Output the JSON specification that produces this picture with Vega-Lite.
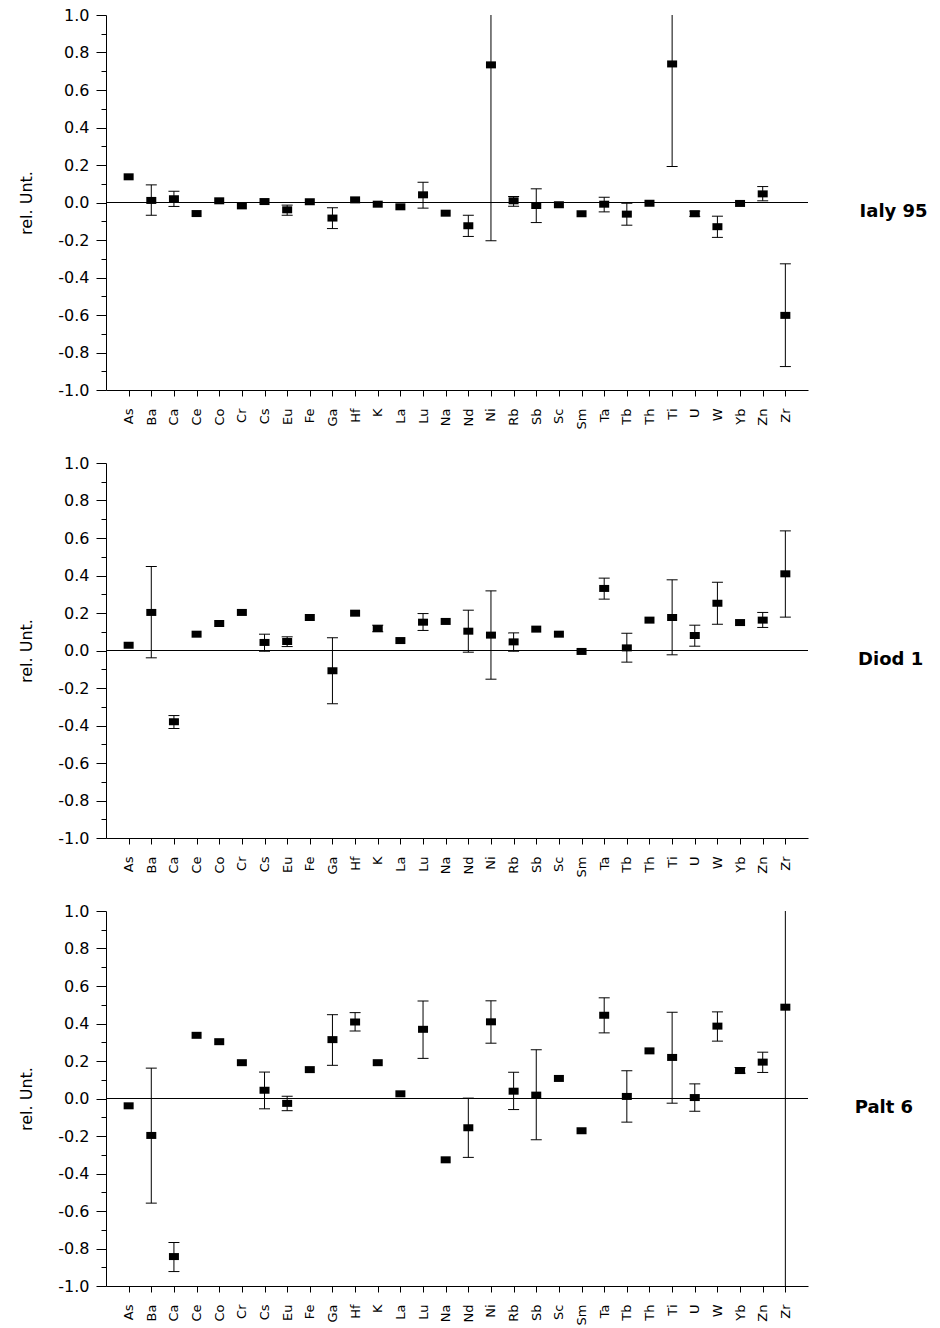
{
  "$schema": "https://vega.github.io/schema/vega-lite/v6.json",
  "padding": {"left": 18, "top": 7, "right": 5, "bottom": 5},
  "background": "white",
  "datasets": {
    "d": [
      {"s": "Ialy 95", "el": "As", "v": 0.137},
      {"s": "Ialy 95", "el": "Ba", "v": 0.011, "lo": -0.068, "hi": 0.094},
      {"s": "Ialy 95", "el": "Ca", "v": 0.020, "lo": -0.021, "hi": 0.060},
      {"s": "Ialy 95", "el": "Ce", "v": -0.059},
      {"s": "Ialy 95", "el": "Co", "v": 0.009},
      {"s": "Ialy 95", "el": "Cr", "v": -0.018},
      {"s": "Ialy 95", "el": "Cs", "v": 0.005},
      {"s": "Ialy 95", "el": "Eu", "v": -0.039, "lo": -0.068, "hi": -0.014},
      {"s": "Ialy 95", "el": "Fe", "v": 0.004},
      {"s": "Ialy 95", "el": "Ga", "v": -0.083, "lo": -0.139, "hi": -0.028},
      {"s": "Ialy 95", "el": "Hf", "v": 0.014},
      {"s": "Ialy 95", "el": "K", "v": -0.009},
      {"s": "Ialy 95", "el": "La", "v": -0.023},
      {"s": "Ialy 95", "el": "Lu", "v": 0.041, "lo": -0.030, "hi": 0.108},
      {"s": "Ialy 95", "el": "Na", "v": -0.057},
      {"s": "Ialy 95", "el": "Nd", "v": -0.124, "lo": -0.181, "hi": -0.068},
      {"s": "Ialy 95", "el": "Ni", "v": 0.734, "lo": -0.204, "hi": 1.672},
      {"s": "Ialy 95", "el": "Rb", "v": 0.009, "lo": -0.020, "hi": 0.032},
      {"s": "Ialy 95", "el": "Sb", "v": -0.016, "lo": -0.107, "hi": 0.073},
      {"s": "Ialy 95", "el": "Sc", "v": -0.012},
      {"s": "Ialy 95", "el": "Sm", "v": -0.060},
      {"s": "Ialy 95", "el": "Ta", "v": -0.009, "lo": -0.050, "hi": 0.028},
      {"s": "Ialy 95", "el": "Tb", "v": -0.062, "lo": -0.121, "hi": -0.004},
      {"s": "Ialy 95", "el": "Th", "v": -0.004},
      {"s": "Ialy 95", "el": "Ti", "v": 0.739, "lo": 0.192, "hi": 1.286},
      {"s": "Ialy 95", "el": "U", "v": -0.060, "lo": -0.074, "hi": -0.046},
      {"s": "Ialy 95", "el": "W", "v": -0.129, "lo": -0.186, "hi": -0.073},
      {"s": "Ialy 95", "el": "Yb", "v": -0.005},
      {"s": "Ialy 95", "el": "Zn", "v": 0.046, "lo": 0.009, "hi": 0.085},
      {"s": "Ialy 95", "el": "Zr", "v": -0.602, "lo": -0.875, "hi": -0.327},

      {"s": "Diod 1", "el": "As", "v": 0.028},
      {"s": "Diod 1", "el": "Ba", "v": 0.203, "lo": -0.039, "hi": 0.448},
      {"s": "Diod 1", "el": "Ca", "v": -0.380, "lo": -0.416, "hi": -0.347},
      {"s": "Diod 1", "el": "Ce", "v": 0.087},
      {"s": "Diod 1", "el": "Co", "v": 0.144},
      {"s": "Diod 1", "el": "Cr", "v": 0.203},
      {"s": "Diod 1", "el": "Cs", "v": 0.043, "lo": -0.004, "hi": 0.087},
      {"s": "Diod 1", "el": "Eu", "v": 0.048, "lo": 0.021, "hi": 0.073},
      {"s": "Diod 1", "el": "Fe", "v": 0.176},
      {"s": "Diod 1", "el": "Ga", "v": -0.108, "lo": -0.284, "hi": 0.068},
      {"s": "Diod 1", "el": "Hf", "v": 0.199},
      {"s": "Diod 1", "el": "K", "v": 0.117, "lo": 0.100, "hi": 0.135},
      {"s": "Diod 1", "el": "La", "v": 0.053},
      {"s": "Diod 1", "el": "Lu", "v": 0.151, "lo": 0.107, "hi": 0.197},
      {"s": "Diod 1", "el": "Na", "v": 0.155},
      {"s": "Diod 1", "el": "Nd", "v": 0.103, "lo": -0.009, "hi": 0.215},
      {"s": "Diod 1", "el": "Ni", "v": 0.082, "lo": -0.153, "hi": 0.318},
      {"s": "Diod 1", "el": "Rb", "v": 0.046, "lo": -0.004, "hi": 0.094},
      {"s": "Diod 1", "el": "Sb", "v": 0.114},
      {"s": "Diod 1", "el": "Sc", "v": 0.087},
      {"s": "Diod 1", "el": "Sm", "v": -0.005},
      {"s": "Diod 1", "el": "Ta", "v": 0.331, "lo": 0.274, "hi": 0.386},
      {"s": "Diod 1", "el": "Tb", "v": 0.014, "lo": -0.062, "hi": 0.092},
      {"s": "Diod 1", "el": "Th", "v": 0.162},
      {"s": "Diod 1", "el": "Ti", "v": 0.176, "lo": -0.023, "hi": 0.377},
      {"s": "Diod 1", "el": "U", "v": 0.080, "lo": 0.023, "hi": 0.135},
      {"s": "Diod 1", "el": "W", "v": 0.252, "lo": 0.140, "hi": 0.364},
      {"s": "Diod 1", "el": "Yb", "v": 0.149},
      {"s": "Diod 1", "el": "Zn", "v": 0.162, "lo": 0.123, "hi": 0.203},
      {"s": "Diod 1", "el": "Zr", "v": 0.409, "lo": 0.178, "hi": 0.638},

      {"s": "Palt 6", "el": "As", "v": -0.039},
      {"s": "Palt 6", "el": "Ba", "v": -0.197, "lo": -0.558, "hi": 0.162},
      {"s": "Palt 6", "el": "Ca", "v": -0.843, "lo": -0.923, "hi": -0.768},
      {"s": "Palt 6", "el": "Ce", "v": 0.337},
      {"s": "Palt 6", "el": "Co", "v": 0.303},
      {"s": "Palt 6", "el": "Cr", "v": 0.191},
      {"s": "Palt 6", "el": "Cs", "v": 0.044, "lo": -0.055, "hi": 0.141},
      {"s": "Palt 6", "el": "Eu", "v": -0.026, "lo": -0.065, "hi": 0.012},
      {"s": "Palt 6", "el": "Fe", "v": 0.154},
      {"s": "Palt 6", "el": "Ga", "v": 0.314, "lo": 0.177, "hi": 0.447},
      {"s": "Palt 6", "el": "Hf", "v": 0.408, "lo": 0.360, "hi": 0.458},
      {"s": "Palt 6", "el": "K", "v": 0.191},
      {"s": "Palt 6", "el": "La", "v": 0.025},
      {"s": "Palt 6", "el": "Lu", "v": 0.369, "lo": 0.214, "hi": 0.520},
      {"s": "Palt 6", "el": "Na", "v": -0.327},
      {"s": "Palt 6", "el": "Nd", "v": -0.156, "lo": -0.314, "hi": 0.002},
      {"s": "Palt 6", "el": "Ni", "v": 0.409, "lo": 0.295, "hi": 0.521},
      {"s": "Palt 6", "el": "Rb", "v": 0.039, "lo": -0.059, "hi": 0.140},
      {"s": "Palt 6", "el": "Sb", "v": 0.018, "lo": -0.220, "hi": 0.260},
      {"s": "Palt 6", "el": "Sc", "v": 0.107},
      {"s": "Palt 6", "el": "Sm", "v": -0.172},
      {"s": "Palt 6", "el": "Ta", "v": 0.444, "lo": 0.350, "hi": 0.537},
      {"s": "Palt 6", "el": "Tb", "v": 0.011, "lo": -0.126, "hi": 0.148},
      {"s": "Palt 6", "el": "Th", "v": 0.254},
      {"s": "Palt 6", "el": "Ti", "v": 0.219, "lo": -0.025, "hi": 0.460},
      {"s": "Palt 6", "el": "U", "v": 0.005, "lo": -0.068, "hi": 0.078},
      {"s": "Palt 6", "el": "W", "v": 0.386, "lo": 0.306, "hi": 0.462},
      {"s": "Palt 6", "el": "Yb", "v": 0.149, "lo": 0.135, "hi": 0.165},
      {"s": "Palt 6", "el": "Zn", "v": 0.194, "lo": 0.139, "hi": 0.247},
      {"s": "Palt 6", "el": "Zr", "v": 0.487, "lo": -1.1, "hi": 2.07}
    ]
  },
  "data": {"name": "d"},
  "spacing": 26,
  "vconcat": [
    {
      "width": 702, "height": 375,
      "title": "Ialy 95",
      "transform": [{"filter": "datum.s == 'Ialy 95'"}],
      "resolve": {"axis": {"y": "independent"}},
      "layer": [
        {"mark": {"type": "rule", "color": "black", "strokeWidth": 1},
         "encoding": {"y": {"datum": 0, "type": "quantitative", "scale": {"domain": [-1, 1], "nice": false, "zero": false},
           "axis": {"orient": "left", "values": [-0.9, -0.7, -0.5, -0.3, -0.1, 0.1, 0.3, 0.5, 0.7, 0.9], "labels": false, "domain": false, "tickSize": 5, "title": null}}}},
        {"transform": [{"filter": "datum.lo != null"}],
         "mark": {"type": "rule", "color": "black", "strokeWidth": 1, "clip": true},
         "encoding": {"x": {"field": "el", "type": "nominal", "scale": {"type": "point", "padding": 1, "domain": ["As","Ba","Ca","Ce","Co","Cr","Cs","Eu","Fe","Ga","Hf","K","La","Lu","Na","Nd","Ni","Rb","Sb","Sc","Sm","Ta","Tb","Th","Ti","U","W","Yb","Zn","Zr"]},
             "axis": {"title": null, "labelAngle": -90, "labelAlign": "right", "labelBaseline": "middle", "tickSize": 6, "labelPadding": 12, "labelFontSize": 13}},
           "y": {"field": "lo", "type": "quantitative", "scale": {"domain": [-1, 1], "nice": false, "zero": false}, "axis": null},
           "y2": {"field": "hi"}}},
        {"transform": [{"filter": "datum.lo != null"}],
         "mark": {"type": "tick", "color": "black", "thickness": 1, "size": 11, "orient": "horizontal", "clip": true, "opacity": 1},
         "encoding": {"x": {"field": "el", "type": "nominal", "scale": {"type": "point", "padding": 1, "domain": ["As","Ba","Ca","Ce","Co","Cr","Cs","Eu","Fe","Ga","Hf","K","La","Lu","Na","Nd","Ni","Rb","Sb","Sc","Sm","Ta","Tb","Th","Ti","U","W","Yb","Zn","Zr"]},
             "axis": {"title": null, "labelAngle": -90, "labelAlign": "right", "labelBaseline": "middle", "tickSize": 6, "labelPadding": 12, "labelFontSize": 13}},
           "y": {"field": "lo", "type": "quantitative", "scale": {"domain": [-1, 1], "nice": false, "zero": false}, "axis": null}}},
        {"transform": [{"filter": "datum.lo != null"}],
         "mark": {"type": "tick", "color": "black", "thickness": 1, "size": 11, "orient": "horizontal", "clip": true, "opacity": 1},
         "encoding": {"x": {"field": "el", "type": "nominal", "scale": {"type": "point", "padding": 1, "domain": ["As","Ba","Ca","Ce","Co","Cr","Cs","Eu","Fe","Ga","Hf","K","La","Lu","Na","Nd","Ni","Rb","Sb","Sc","Sm","Ta","Tb","Th","Ti","U","W","Yb","Zn","Zr"]},
             "axis": {"title": null, "labelAngle": -90, "labelAlign": "right", "labelBaseline": "middle", "tickSize": 6, "labelPadding": 12, "labelFontSize": 13}},
           "y": {"field": "hi", "type": "quantitative", "scale": {"domain": [-1, 1], "nice": false, "zero": false}, "axis": null}}},
        {"mark": {"type": "point", "filled": true, "color": "black", "opacity": 1, "size": 100, "shape": "M-1,-0.7L1,-0.7L1,0.7L-1,0.7Z", "clip": true},
         "encoding": {"x": {"field": "el", "type": "nominal", "scale": {"type": "point", "padding": 1, "domain": ["As","Ba","Ca","Ce","Co","Cr","Cs","Eu","Fe","Ga","Hf","K","La","Lu","Na","Nd","Ni","Rb","Sb","Sc","Sm","Ta","Tb","Th","Ti","U","W","Yb","Zn","Zr"]},
             "axis": {"title": null, "labelAngle": -90, "labelAlign": "right", "labelBaseline": "middle", "tickSize": 6, "labelPadding": 12, "labelFontSize": 13}},
           "y": {"field": "v", "type": "quantitative", "scale": {"domain": [-1, 1], "nice": false, "zero": false},
             "axis": {"orient": "left", "title": "rel. Unt.", "values": [-1, -0.8, -0.6, -0.4, -0.2, 0, 0.2, 0.4, 0.6, 0.8, 1], "labelExpr": "datum.value < 0 ? '-' + format(-datum.value, '.1f') : format(datum.value, '.1f')", "tickSize": 10, "labelPadding": 7, "labelFontSize": 16, "titleFontSize": 16, "titlePadding": 23}}}}
      ]
    },
    {
      "width": 702, "height": 375,
      "title": "Diod 1",
      "transform": [{"filter": "datum.s == 'Diod 1'"}],
      "resolve": {"axis": {"y": "independent"}},
      "layer": [
        {"mark": {"type": "rule", "color": "black", "strokeWidth": 1},
         "encoding": {"y": {"datum": 0, "type": "quantitative", "scale": {"domain": [-1, 1], "nice": false, "zero": false},
           "axis": {"orient": "left", "values": [-0.9, -0.7, -0.5, -0.3, -0.1, 0.1, 0.3, 0.5, 0.7, 0.9], "labels": false, "domain": false, "tickSize": 5, "title": null}}}},
        {"transform": [{"filter": "datum.lo != null"}],
         "mark": {"type": "rule", "color": "black", "strokeWidth": 1, "clip": true},
         "encoding": {"x": {"field": "el", "type": "nominal", "scale": {"type": "point", "padding": 1, "domain": ["As","Ba","Ca","Ce","Co","Cr","Cs","Eu","Fe","Ga","Hf","K","La","Lu","Na","Nd","Ni","Rb","Sb","Sc","Sm","Ta","Tb","Th","Ti","U","W","Yb","Zn","Zr"]},
             "axis": {"title": null, "labelAngle": -90, "labelAlign": "right", "labelBaseline": "middle", "tickSize": 6, "labelPadding": 12, "labelFontSize": 13}},
           "y": {"field": "lo", "type": "quantitative", "scale": {"domain": [-1, 1], "nice": false, "zero": false}, "axis": null},
           "y2": {"field": "hi"}}},
        {"transform": [{"filter": "datum.lo != null"}],
         "mark": {"type": "tick", "color": "black", "thickness": 1, "size": 11, "orient": "horizontal", "clip": true, "opacity": 1},
         "encoding": {"x": {"field": "el", "type": "nominal", "scale": {"type": "point", "padding": 1, "domain": ["As","Ba","Ca","Ce","Co","Cr","Cs","Eu","Fe","Ga","Hf","K","La","Lu","Na","Nd","Ni","Rb","Sb","Sc","Sm","Ta","Tb","Th","Ti","U","W","Yb","Zn","Zr"]},
             "axis": {"title": null, "labelAngle": -90, "labelAlign": "right", "labelBaseline": "middle", "tickSize": 6, "labelPadding": 12, "labelFontSize": 13}},
           "y": {"field": "lo", "type": "quantitative", "scale": {"domain": [-1, 1], "nice": false, "zero": false}, "axis": null}}},
        {"transform": [{"filter": "datum.lo != null"}],
         "mark": {"type": "tick", "color": "black", "thickness": 1, "size": 11, "orient": "horizontal", "clip": true, "opacity": 1},
         "encoding": {"x": {"field": "el", "type": "nominal", "scale": {"type": "point", "padding": 1, "domain": ["As","Ba","Ca","Ce","Co","Cr","Cs","Eu","Fe","Ga","Hf","K","La","Lu","Na","Nd","Ni","Rb","Sb","Sc","Sm","Ta","Tb","Th","Ti","U","W","Yb","Zn","Zr"]},
             "axis": {"title": null, "labelAngle": -90, "labelAlign": "right", "labelBaseline": "middle", "tickSize": 6, "labelPadding": 12, "labelFontSize": 13}},
           "y": {"field": "hi", "type": "quantitative", "scale": {"domain": [-1, 1], "nice": false, "zero": false}, "axis": null}}},
        {"mark": {"type": "point", "filled": true, "color": "black", "opacity": 1, "size": 100, "shape": "M-1,-0.7L1,-0.7L1,0.7L-1,0.7Z", "clip": true},
         "encoding": {"x": {"field": "el", "type": "nominal", "scale": {"type": "point", "padding": 1, "domain": ["As","Ba","Ca","Ce","Co","Cr","Cs","Eu","Fe","Ga","Hf","K","La","Lu","Na","Nd","Ni","Rb","Sb","Sc","Sm","Ta","Tb","Th","Ti","U","W","Yb","Zn","Zr"]},
             "axis": {"title": null, "labelAngle": -90, "labelAlign": "right", "labelBaseline": "middle", "tickSize": 6, "labelPadding": 12, "labelFontSize": 13}},
           "y": {"field": "v", "type": "quantitative", "scale": {"domain": [-1, 1], "nice": false, "zero": false},
             "axis": {"orient": "left", "title": "rel. Unt.", "values": [-1, -0.8, -0.6, -0.4, -0.2, 0, 0.2, 0.4, 0.6, 0.8, 1], "labelExpr": "datum.value < 0 ? '-' + format(-datum.value, '.1f') : format(datum.value, '.1f')", "tickSize": 10, "labelPadding": 7, "labelFontSize": 16, "titleFontSize": 16, "titlePadding": 23}}}}
      ]
    },
    {
      "width": 702, "height": 375,
      "title": "Palt 6",
      "transform": [{"filter": "datum.s == 'Palt 6'"}],
      "resolve": {"axis": {"y": "independent"}},
      "layer": [
        {"mark": {"type": "rule", "color": "black", "strokeWidth": 1},
         "encoding": {"y": {"datum": 0, "type": "quantitative", "scale": {"domain": [-1, 1], "nice": false, "zero": false},
           "axis": {"orient": "left", "values": [-0.9, -0.7, -0.5, -0.3, -0.1, 0.1, 0.3, 0.5, 0.7, 0.9], "labels": false, "domain": false, "tickSize": 5, "title": null}}}},
        {"transform": [{"filter": "datum.lo != null"}],
         "mark": {"type": "rule", "color": "black", "strokeWidth": 1, "clip": true},
         "encoding": {"x": {"field": "el", "type": "nominal", "scale": {"type": "point", "padding": 1, "domain": ["As","Ba","Ca","Ce","Co","Cr","Cs","Eu","Fe","Ga","Hf","K","La","Lu","Na","Nd","Ni","Rb","Sb","Sc","Sm","Ta","Tb","Th","Ti","U","W","Yb","Zn","Zr"]},
             "axis": {"title": null, "labelAngle": -90, "labelAlign": "right", "labelBaseline": "middle", "tickSize": 6, "labelPadding": 12, "labelFontSize": 13}},
           "y": {"field": "lo", "type": "quantitative", "scale": {"domain": [-1, 1], "nice": false, "zero": false}, "axis": null},
           "y2": {"field": "hi"}}},
        {"transform": [{"filter": "datum.lo != null"}],
         "mark": {"type": "tick", "color": "black", "thickness": 1, "size": 11, "orient": "horizontal", "clip": true, "opacity": 1},
         "encoding": {"x": {"field": "el", "type": "nominal", "scale": {"type": "point", "padding": 1, "domain": ["As","Ba","Ca","Ce","Co","Cr","Cs","Eu","Fe","Ga","Hf","K","La","Lu","Na","Nd","Ni","Rb","Sb","Sc","Sm","Ta","Tb","Th","Ti","U","W","Yb","Zn","Zr"]},
             "axis": {"title": null, "labelAngle": -90, "labelAlign": "right", "labelBaseline": "middle", "tickSize": 6, "labelPadding": 12, "labelFontSize": 13}},
           "y": {"field": "lo", "type": "quantitative", "scale": {"domain": [-1, 1], "nice": false, "zero": false}, "axis": null}}},
        {"transform": [{"filter": "datum.lo != null"}],
         "mark": {"type": "tick", "color": "black", "thickness": 1, "size": 11, "orient": "horizontal", "clip": true, "opacity": 1},
         "encoding": {"x": {"field": "el", "type": "nominal", "scale": {"type": "point", "padding": 1, "domain": ["As","Ba","Ca","Ce","Co","Cr","Cs","Eu","Fe","Ga","Hf","K","La","Lu","Na","Nd","Ni","Rb","Sb","Sc","Sm","Ta","Tb","Th","Ti","U","W","Yb","Zn","Zr"]},
             "axis": {"title": null, "labelAngle": -90, "labelAlign": "right", "labelBaseline": "middle", "tickSize": 6, "labelPadding": 12, "labelFontSize": 13}},
           "y": {"field": "hi", "type": "quantitative", "scale": {"domain": [-1, 1], "nice": false, "zero": false}, "axis": null}}},
        {"mark": {"type": "point", "filled": true, "color": "black", "opacity": 1, "size": 100, "shape": "M-1,-0.7L1,-0.7L1,0.7L-1,0.7Z", "clip": true},
         "encoding": {"x": {"field": "el", "type": "nominal", "scale": {"type": "point", "padding": 1, "domain": ["As","Ba","Ca","Ce","Co","Cr","Cs","Eu","Fe","Ga","Hf","K","La","Lu","Na","Nd","Ni","Rb","Sb","Sc","Sm","Ta","Tb","Th","Ti","U","W","Yb","Zn","Zr"]},
             "axis": {"title": null, "labelAngle": -90, "labelAlign": "right", "labelBaseline": "middle", "tickSize": 6, "labelPadding": 12, "labelFontSize": 13}},
           "y": {"field": "v", "type": "quantitative", "scale": {"domain": [-1, 1], "nice": false, "zero": false},
             "axis": {"orient": "left", "title": "rel. Unt.", "values": [-1, -0.8, -0.6, -0.4, -0.2, 0, 0.2, 0.4, 0.6, 0.8, 1], "labelExpr": "datum.value < 0 ? '-' + format(-datum.value, '.1f') : format(datum.value, '.1f')", "tickSize": 10, "labelPadding": 7, "labelFontSize": 16, "titleFontSize": 16, "titlePadding": 23}}}}
      ]
    }
  ],
  "config": {
    "view": {"stroke": null},
    "font": "DejaVu Sans",
    "axis": {"domainColor": "black", "tickColor": "black", "labelColor": "black", "titleColor": "black", "grid": false, "labelFont": "DejaVu Sans", "titleFont": "DejaVu Sans", "titleFontWeight": "normal", "domainWidth": 1, "tickWidth": 1},
    "title": {"orient": "right", "angle": 0, "anchor": "middle", "align": "left", "baseline": "middle", "offset": 17, "fontSize": 18, "font": "DejaVu Sans", "fontWeight": "bold", "color": "black"}
  }
}
